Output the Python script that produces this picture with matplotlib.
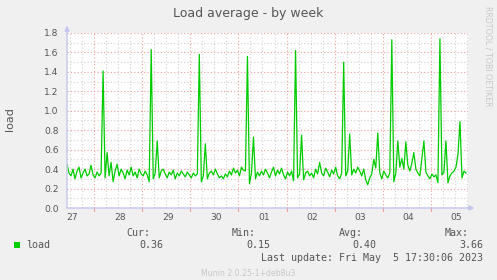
import numpy as np
import pandas as pd
import matplotlib
matplotlib.use("Agg")
import matplotlib.pyplot as plt

# hourly samples, first one at Apr 27 10:30, one row per day (10:30 -> 09:30 next day)
load_rows = [
    [0.45, 0.36, 0.33, 0.40, 0.30, 0.38, 0.42, 0.31, 0.36, 0.40, 0.33, 0.35,
     0.44, 0.34, 0.31, 0.37, 0.33, 0.36, 1.41, 0.31, 0.57, 0.33, 0.47, 0.27],
    [0.38, 0.45, 0.33, 0.40, 0.36, 0.30, 0.39, 0.34, 0.42, 0.33, 0.37, 0.31,
     0.40, 0.35, 0.33, 0.38, 0.34, 0.27, 1.63, 0.30, 0.36, 0.69, 0.31, 0.38],
    [0.40, 0.35, 0.31, 0.37, 0.34, 0.39, 0.30, 0.36, 0.33, 0.38, 0.35, 0.32,
     0.37, 0.34, 0.31, 0.36, 0.33, 0.35, 1.58, 0.27, 0.33, 0.66, 0.30, 0.36],
    [0.38, 0.34, 0.40, 0.35, 0.31, 0.33, 0.30, 0.35, 0.32, 0.38, 0.34, 0.41,
     0.36, 0.39, 0.33, 0.42, 0.39, 0.38, 1.56, 0.25, 0.36, 0.73, 0.30, 0.37],
    [0.33, 0.38, 0.34, 0.40, 0.36, 0.31, 0.37, 0.42, 0.33, 0.39, 0.35, 0.41,
     0.34, 0.30, 0.37, 0.33, 0.38, 0.28, 1.62, 0.31, 0.35, 0.75, 0.29, 0.36],
    [0.38, 0.33, 0.36, 0.31, 0.40, 0.35, 0.47, 0.36, 0.33, 0.41, 0.37, 0.32,
     0.39, 0.35, 0.42, 0.33, 0.30, 0.36, 1.50, 0.33, 0.38, 0.76, 0.34, 0.40],
    [0.36, 0.42, 0.38, 0.33, 0.40, 0.29, 0.24, 0.31, 0.35, 0.50, 0.41, 0.77,
     0.36, 0.30, 0.38, 0.34, 0.31, 0.36, 1.73, 0.27, 0.36, 0.69, 0.42, 0.51],
    [0.40, 0.68, 0.44, 0.38, 0.46, 0.57, 0.40, 0.36, 0.33, 0.51, 0.69, 0.37,
     0.33, 0.30, 0.35, 0.32, 0.34, 0.26, 1.74, 0.34, 0.37, 0.69, 0.26, 0.33],
    [0.36, 0.38, 0.42, 0.55, 0.89, 0.31, 0.38, 0.36],
]
load = [v for row in load_rows for v in row]
start_hour = 10.5  # hours after Apr 27 00:00
day_labels = ["27", "28", "29", "30", "01", "02", "03", "04", "05"]
y_ticks = [0.0, 0.2, 0.4, 0.6, 0.8, 1.0, 1.2, 1.4, 1.6, 1.8]
stats = {"Cur:": "0.36", "Min:": "0.15", "Avg:": "0.40", "Max:": "3.66"}
last_update = "Last update: Fri May  5 17:30:06 2023"

hours = start_hour + np.arange(len(load))

W, H = 497, 280
bg = "#f0f0f0"
txt = "#555555"
axis_col = "#c4c4f0"
major_col = "#eca0a0"
minor_col = "#d2d2d2"

fig = plt.figure(figsize=(W / 100, H / 100), dpi=100, facecolor=bg)

def px(x, y):
    return x / W, 1 - y / H

left, right, top, bottom = 67, 468, 33, 208
ax = fig.add_axes([left / W, 1 - bottom / H, (right - left) / W, (bottom - top) / H])
ax.set_facecolor("white")
ax.set_xlim(10.5, 210.5)
ax.set_ylim(0, 1.8)

# grid: red dotted majors, gray dotted minors
dots = (0, (1, 2))
for h in np.arange(0, 216, 6):
    if h < 10.5 or h > 210.5:
        continue
    if h % 24 == 0:
        ax.axvline(h, color=major_col, lw=0.8, ls=dots, zorder=1)
    else:
        ax.axvline(h, color=minor_col, lw=0.8, ls=dots, zorder=1)
for k in range(1, 19):
    v = k / 10
    ax.axhline(v, color=major_col if k % 2 == 0 else minor_col, lw=0.8, ls=dots, zorder=1)

ax.plot(hours, load, color="#00cc00", lw=0.9, zorder=3)

for s in ax.spines.values():
    s.set_visible(False)
ax.set_xticks([])
ax.set_yticks(y_ticks)
ax.set_yticklabels(["%.1f" % v for v in y_ticks], fontsize=6.6, color=txt)
ax.tick_params(axis="y", length=0, pad=6)

# axis lines with arrows
ax.annotate("", xy=(0, 1.042), xytext=(0, 0), xycoords="axes fraction",
            arrowprops=dict(arrowstyle="-|>", color=axis_col, lw=1.0, mutation_scale=7, shrinkA=0, shrinkB=0))
ax.annotate("", xy=(1.016, 0), xytext=(0, 0), xycoords="axes fraction",
            arrowprops=dict(arrowstyle="-|>", color=axis_col, lw=1.0, mutation_scale=7, shrinkA=0, shrinkB=0))

# day tick marks under the axis and day labels at noon
trans = ax.get_xaxis_transform()
for d in range(1, 9):
    ax.plot([24 * d, 24 * d], [0, -0.015], color=major_col, lw=0.8, transform=trans, clip_on=False)
for k, lab in enumerate(day_labels):
    ax.text(12.8 + 24 * k, -0.03, lab, transform=trans, ha="center", va="top", fontsize=6.6, color=txt)

fig.text(*px(248, 13), "Load average - by week", ha="center", va="center", fontsize=9, color=txt)
fig.text(*px(10, 119), "load", ha="center", va="center", rotation=90, fontsize=8, color=txt)
fig.text(*px(488, 56), "RRDTOOL / TOBI OETIKER", ha="center", va="center", rotation=270,
         fontsize=5.7, color="#c8c8c8")

mono = dict(family="DejaVu Sans Mono", fontsize=7.2, color=txt)
fig.patches.append(plt.Rectangle(px(14, 248), 6 / W, 6 / H, transform=fig.transFigure,
                                 facecolor="#00cc00", edgecolor="none"))
fig.text(*px(26, 245), "load", ha="left", va="center", **mono)
label_right = [150, 256, 363, 469]
value_right = [163, 270, 376, 483]
for (name, val), lx, vx in zip(stats.items(), label_right, value_right):
    fig.text(*px(lx, 233), name, ha="right", va="center", **mono)
    fig.text(*px(vx, 245), val, ha="right", va="center", **mono)
fig.text(*px(483, 258), last_update, ha="right", va="center", **mono)
fig.text(*px(248, 273), "Munin 2.0.25-1+deb8u3", ha="center", va="center", fontsize=5.6, color="#c8c8c8")

fig.savefig("out.png", dpi=100, facecolor=bg)
